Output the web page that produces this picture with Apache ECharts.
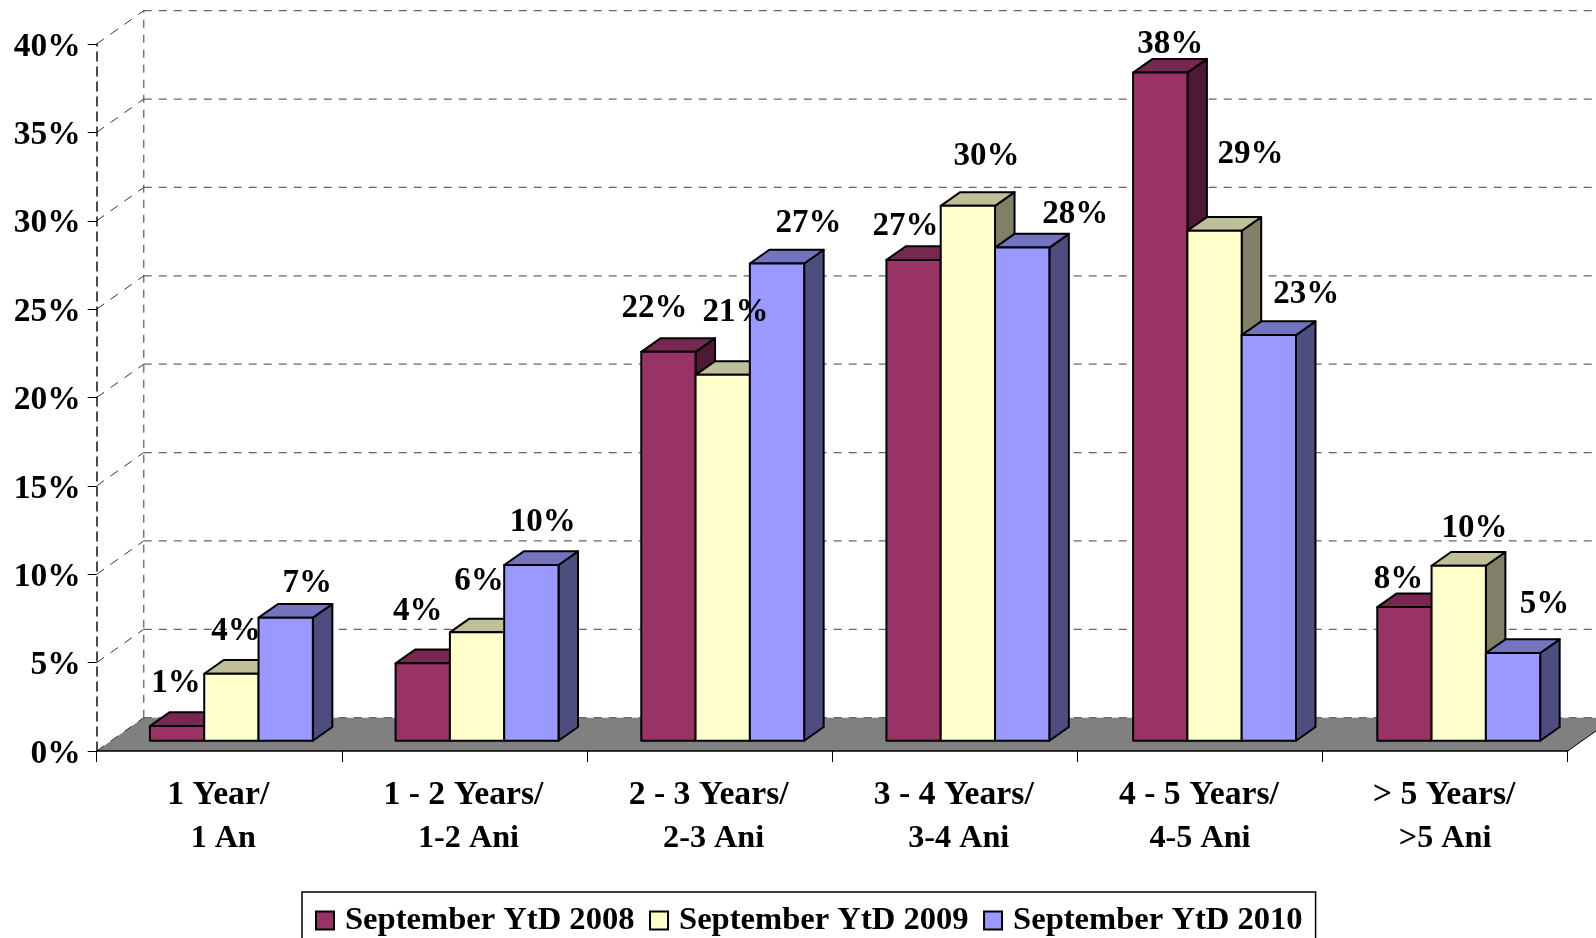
<!DOCTYPE html>
<html><head><meta charset="utf-8">
<style>html,body{margin:0;padding:0;background:#fff;overflow:hidden}#c{width:1596px;height:938px}</style>
<script src="https://cdn.jsdelivr.net/npm/echarts@6/dist/echarts.min.js"></script>
</head><body><div id="c"></div>
<script>
const categories = ['1 Year/\n1 An','1 - 2 Years/\n1-2 Ani','2 - 3 Years/\n2-3 Ani','3 - 4 Years/\n3-4 Ani','4 - 5 Years/\n4-5 Ani','> 5 Years/\n>5 Ani'];
const seriesNames = ['September YtD 2008','September YtD 2009','September YtD 2010'];
const values2008 = [0.83,4.38,22,27.2,37.8,7.56];
const values2009 = [3.79,6.13,20.7,30.26,28.85,9.9];
const values2010 = [6.96,9.94,27,27.9,22.95,4.96];
const labels2008 = ['1%','4%','22%','27%','38%','8%'];
const labels2009 = ['4%','6%','21%','30%','29%','10%'];
const labels2010 = ['7%','10%','27%','28%','23%','5%'];
const yTicks = [0,5,10,15,20,25,30,35,40];

// styling only
const FONT = '"Liberation Serif","Times New Roman",serif';
const WALL = [47,-33.3], BAR_FRONT = [14.6,-10.3], BAR_DEPTH = [19.5,-13.7], BAR_W = 54.3;
const GROUP_SHIFT = [-2.5,-2,-1.5,-1.5,0,-1];
const FACES = [['#993366','#772850','#4d1933'],['#ffffcc','#bfbf99','#808066'],['#9999ff','#7373bf','#4d4d80']];
const LABEL_SHIFT = [
 [[-2.5,-45],[-6.5,-54],[-15.5,-46],[-9.5,-35.6],[8.6,-31],[-7.4,-30]],
 [[3,-44.7],[0.4,-53],[11.4,-65],[17,-52],[34.4,-79],[14.4,-39.7]],
 [[20,-36.7],[10,-45],[30,-42.6],[51.5,-36],[36,-43],[30,-51.4]]
];
const LABEL_NUDGE = [1.5,2.5];
const allValues = [values2008,values2009,values2010];
const allLabels = [labels2008,labels2009,labels2010];

function barBox(api,s,cat,val){
  const top = api.coord([cat,val]), base = api.coord([cat,0]);
  const cx = top[0] + BAR_FRONT[0] + GROUP_SHIFT[cat] + (s-1)*BAR_W;
  return {x0:cx-BAR_W/2, x1:cx+BAR_W/2, cx, yt:top[1]+BAR_FRONT[1], yb:base[1]+BAR_FRONT[1]};
}
function barSeries(s){
  return {
    type:'custom', name:seriesNames[s], z:2, clip:false, silent:true,
    itemStyle:{color:FACES[s][0]},
    encode:{x:0,y:1},
    data:allValues[s].map((v,i)=>[i,v]),
    renderItem(p,api){
      const cat=api.value(0), b=barBox(api,s,cat,api.value(1));
      const d=BAR_DEPTH, st={stroke:'#000',lineWidth:2,lineJoin:'round'};
      return {type:'group',children:[
        {type:'polygon',shape:{points:[[b.x1,b.yt],[b.x1+d[0],b.yt+d[1]],[b.x1+d[0],b.yb+d[1]],[b.x1,b.yb]]},style:{fill:FACES[s][2],...st}},
        {type:'polygon',shape:{points:[[b.x0,b.yt],[b.x0+d[0],b.yt+d[1]],[b.x1+d[0],b.yt+d[1]],[b.x1,b.yt]]},style:{fill:FACES[s][1],...st}},
        {type:'rect',shape:{x:b.x0,y:b.yt,width:BAR_W,height:b.yb-b.yt},style:{fill:FACES[s][0],...st}}
      ]};
    }
  };
}
const option = {
  animation:false,
  backgroundColor:'#fff',
  textStyle:{fontFamily:FONT},
  grid:{left:96.7,top:44,width:1471,height:707,containLabel:false},
  xAxis:{type:'category',data:categories,z:3,
    axisLine:{lineStyle:{color:'#000',width:1.5}},
    axisTick:{show:true,length:11,lineStyle:{color:'#000',width:1}},
    axisLabel:{interval:0,margin:22,
      formatter(v,i){const p=v.split('\n');return '{a|'+p[0]+'}\n{'+(i>=4?'c':'b')+'|'+p[1]+'}';},
      fontFamily:FONT,fontWeight:'bold',fontSize:33.7,color:'#000',lineHeight:44,
      rich:{
        a:{fontFamily:FONT,fontWeight:'bold',fontSize:33.7,color:'#000',lineHeight:44,padding:[0,2,0,0]},
        b:{fontFamily:FONT,fontWeight:'bold',fontSize:32.2,color:'#000',lineHeight:44,padding:[0,0,0,8]},
        c:{fontFamily:FONT,fontWeight:'bold',fontSize:32.2,color:'#000',lineHeight:44,padding:[0,0,0,0]}
      }},
    splitLine:{show:false}},
  yAxis:{type:'value',min:0,max:40,interval:5,z:3,
    axisLine:{show:true,lineStyle:{color:'#111',width:1.5,type:[9,6]}},
    axisTick:{show:true,length:9,lineStyle:{color:'#000',width:1}},
    axisLabel:{margin:16,verticalAlign:'top',lineHeight:6,formatter:'{value}%',fontFamily:FONT,fontWeight:'bold',fontSize:33.5,color:'#000'},
    splitLine:{show:false}},
  legend:{show:true,left:302,top:892,orient:'horizontal',
    data:seriesNames,icon:'rect',itemWidth:18,itemHeight:18,itemGap:14.5,
    padding:[12,13,30,13],
    borderColor:'#000',borderWidth:1.5,backgroundColor:'#fff',
    itemStyle:{borderColor:'#000',borderWidth:2},
    textStyle:{fontFamily:FONT,fontWeight:'bold',fontSize:32.6,color:'#000',padding:[0,0,0,6]}},
  series:[
    {type:'custom',z:1,clip:false,silent:true,encode:{x:0,y:1},data:[[0,0]],
      renderItem(p,api){
        const o=api.coord([0,0]), w=api.size([1,0])[0], L=o[0]-w/2, R=L+6*w, y=o[1];
        return {type:'group',children:[
          {type:'polygon',shape:{points:[[L,y],[L+WALL[0],y+WALL[1]],[R+WALL[0],y+WALL[1]],[R,y]]},style:{fill:'#808080'}},
          {type:'line',shape:{x1:R,y1:y,x2:R+WALL[0],y2:y+WALL[1]},style:{stroke:'#000',lineWidth:1}},
          {type:'line',shape:{x1:L+WALL[0],y1:y+WALL[1],x2:L+WALL[0],y2:api.coord([0,40])[1]+WALL[1]},
            style:{stroke:'#777',lineWidth:1.5,lineDash:[8,7]}}
        ]};
      }},
    {type:'custom',z:1,clip:false,silent:true,encode:{x:0,y:1},data:yTicks.map(t=>[0,t]),
      renderItem(p,api){
        const o=api.coord([0,api.value(1)]), w=api.size([1,0])[0], L=o[0]-w/2, R=L+6*w, y=o[1];
        return {type:'group',children:[
          {type:'line',shape:{x1:L,y1:y,x2:L+WALL[0],y2:y+WALL[1]},style:{stroke:'#333',lineWidth:1,lineDash:[9,8]}},
          {type:'line',shape:{x1:L+WALL[0],y1:y+WALL[1],x2:R+WALL[0],y2:y+WALL[1]},style:{stroke:'#666',lineWidth:1.3,lineDash:[8,7]}}
        ]};
      }},
    barSeries(0),barSeries(1),barSeries(2),
    {type:'custom',z:4,clip:false,silent:true,encode:{x:0,y:1},
      data:allValues.flatMap((arr,s)=>arr.map((v,i)=>[i,v,s])),
      renderItem(p,api){
        const cat=api.value(0), s=api.value(2), b=barBox(api,s,cat,api.value(1)), sh=LABEL_SHIFT[s][cat];
        return {type:'text',style:{x:b.cx+sh[0]+LABEL_NUDGE[0],y:b.yt+sh[1]+LABEL_NUDGE[1],text:allLabels[s][cat],fill:'#000',
          font:'bold 33px '+FONT,textAlign:'center',textVerticalAlign:'middle'}};
      }}
  ]
};
echarts.init(document.getElementById('c'),null,{renderer:'canvas'}).setOption(option);
</script></body></html>
